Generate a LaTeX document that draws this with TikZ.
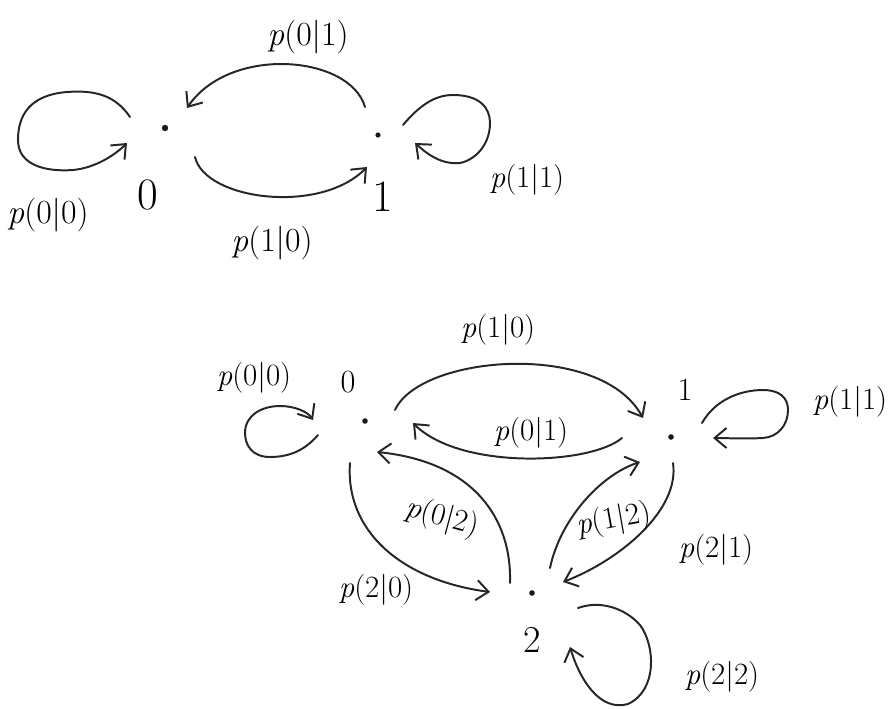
\documentclass[tikz,border=0pt]{standalone}
\usepackage{fontspec}
\usetikzlibrary{arrows.meta,calc}
\begin{document}
\begin{tikzpicture}[x=0.025cm,y=-0.025cm,
  dotnode/.style={circle,fill=black!90,inner sep=0pt,minimum size=0.16cm},
  conn/.style={line width=1.4pt,draw=black!85,line cap=round,
    -{Straight Barb[length=0.3cm,width=0.5cm,line width=1.4pt]}},
  biglab/.style={font=\fontsize{24}{28}\selectfont,inner sep=0pt},
  smalllab/.style={font=\fontsize{22}{26}\selectfont,inner sep=0pt},
  topdigit/.style={font=\fontsize{32}{36}\selectfont,inner sep=0pt},
  botdigit/.style={font=\fontsize{23}{27}\selectfont,inner sep=0pt}]
\useasboundingbox (0,0) rectangle (894,709);

% ---------------- top chain ----------------
\node[dotnode] (t0) at (165,128) {};
\node[dotnode,minimum size=0.13cm] (t1) at (378,135) {};
\node[topdigit] (t0lab) at (148,195) {0};
\node[topdigit] (t1lab) at (383,197) {1};

% loop at 0
\draw[conn] ($(t0)+(-35,-11)$) .. controls (115,95) and (95,90) .. (67,92)
  .. controls (30,95) and (18,115) .. (18,140)
  .. controls (18,165) and (45,172) .. (73,170)
  .. controls (95,168) and (115,155) .. ($(t0)+(-38,15)$);
% 1 -> 0 (top arc)
\draw[conn] ($(t1)+(-13,-28)$) .. controls (350,55) and (230,45) .. ($(t0)+(22,-20)$);
% 0 -> 1 (bottom arc)
\draw[conn] ($(t0)+(30,29)$) .. controls (205,200) and (320,215) .. ($(t1)+(-11,32)$);
% loop at 1
\draw[conn] ($(t1)+(25,-10)$) .. controls (420,105) and (435,95) .. (453,95)
  .. controls (480,95) and (490,108) .. (490,123)
  .. controls (490,145) and (475,160) .. (460,163)
  .. controls (440,165) and (425,152) .. ($(t1)+(37,8)$);

\node[biglab] (tl01) at (308,37) {\textit{p}(0|1)};
\node[biglab] (tl00) at (48,215) {\textit{p}(0|0)};
\node[biglab] (tl10) at (272,243) {\textit{p}(1|0)};
\node[smalllab] (tl11) at (527,180) {\textit{p}(1|1)};

% ---------------- bottom chain ----------------
\node[dotnode,minimum size=0.14cm] (b0) at (365,421) {};
\node[dotnode,minimum size=0.14cm] (b1) at (671,437) {};
\node[dotnode,minimum size=0.14cm] (b2) at (532,593) {};
\node[botdigit] (b0lab) at (348,382) {0};
\node[botdigit] (b1lab) at (685,390) {1};
\node[font=\fontsize{27}{30}\selectfont,inner sep=0pt] (b2lab) at (532,640) {2};

% loop at 0
\draw[conn] ($(b0)+(-47,14)$) .. controls (305,450) and (290,457) .. (270,457)
  .. controls (252,457) and (245,445) .. (245,433)
  .. controls (245,415) and (262,406) .. (280,406)
  .. controls (295,406) and (308,412) .. ($(b0)+(-52,-1)$);
% 0 -> 1
\draw[conn] ($(b0)+(30,-11)$) .. controls (420,355) and (600,340) .. ($(b1)+(-28,-19)$);
% 1 -> 0
\draw[conn] ($(b1)+(-49,1)$) .. controls (590,465) and (460,470) .. ($(b0)+(48,2)$);
% 2 -> 0
\draw[conn] ($(b2)+(-22,-10)$) .. controls (512,520) and (475,462) .. ($(b0)+(12,31)$);
% 0 -> 2
\draw[conn] ($(b0)+(-15,42)$) .. controls (345,530) and (400,580) .. ($(b2)+(-42,-1)$);
% 2 -> 1
\draw[conn] ($(b2)+(18,-25)$) .. controls (560,520) and (600,475) .. ($(b1)+(-31,25)$);
% 1 -> 2
\draw[conn] ($(b1)+(2,26)$) .. controls (680,510) and (620,560) .. ($(b2)+(31,-11)$);
% loop at 1
\draw[conn] ($(b1)+(31,-14)$) .. controls (715,400) and (740,390) .. (763,390)
  .. controls (780,390) and (788,398) .. (788,410)
  .. controls (788,425) and (778,437) .. (763,438)
  .. controls (745,439) and (725,438) .. ($(b1)+(42,1)$);
% loop at 2
\draw[conn] ($(b2)+(46,15)$) .. controls (600,600) and (625,608) .. (640,625)
  .. controls (655,645) and (658,690) .. (628,704)
  .. controls (600,712) and (580,680) .. ($(b2)+(38,54)$);

\node[smalllab] (bl00) at (254,378) {\textit{p}(0|0)};
\node[smalllab] (bl10) at (498,330) {\textit{p}(1|0)};
\node[smalllab] (bl01) at (531,433) {\textit{p}(0|1)};
\node[smalllab] (bl11) at (850,402) {\textit{p}(1|1)};
\node[smalllab,rotate=-15] (bl02) at (442,518) {\textit{p}(0|2)};
\node[smalllab,rotate=10] (bl12) at (614,520) {\textit{p}(1|2)};
\node[smalllab] (bl21) at (716,550) {\textit{p}(2|1)};
\node[smalllab] (bl20) at (376,590) {\textit{p}(2|0)};
\node[smalllab] (bl22) at (722,677) {\textit{p}(2|2)};
\end{tikzpicture}
\end{document}
